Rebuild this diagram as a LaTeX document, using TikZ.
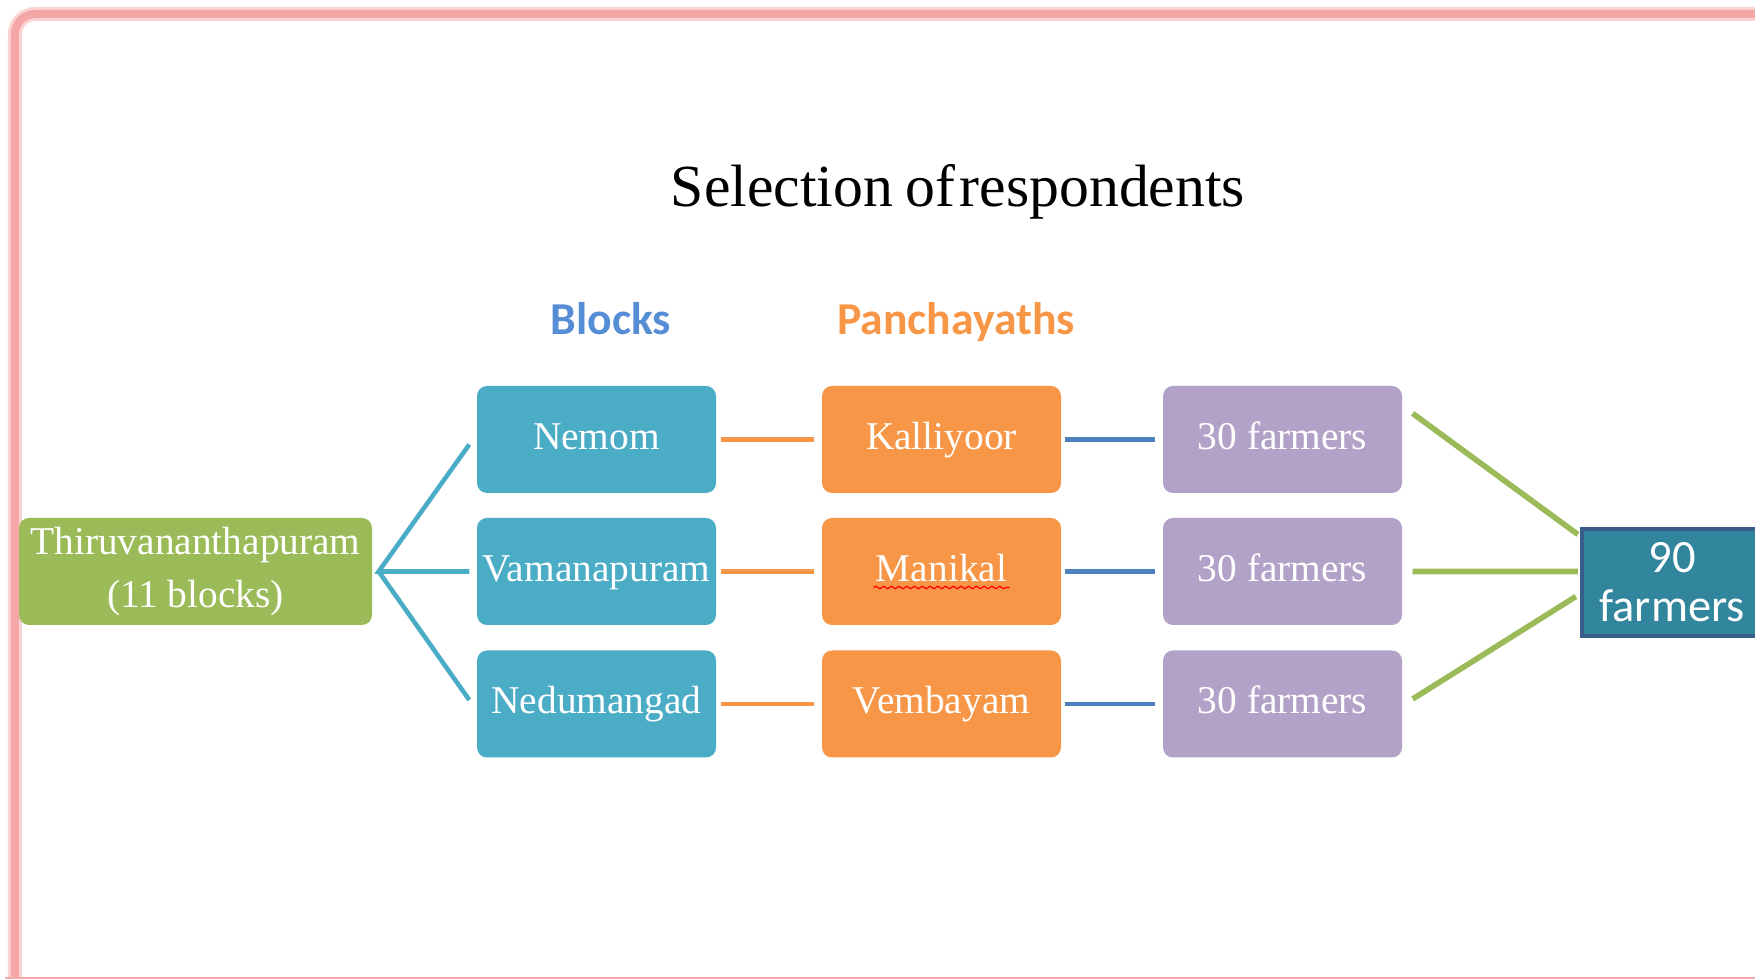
\documentclass[tikz,border=0pt]{standalone}
\usepackage{fontspec}
\setmainfont{Liberation Serif}
\newfontfamily\calibri{Carlito}
\usetikzlibrary{decorations.pathmorphing}
\definecolor{BlockBlue}{HTML}{4BACC6}
\definecolor{PanchOrange}{HTML}{F79646}
\definecolor{FarmPurple}{HTML}{B3A2C7}
\definecolor{DistGreen}{HTML}{9BBB59}
\definecolor{TotalTeal}{HTML}{31859C}
\definecolor{TotalEdge}{HTML}{385D8A}
\definecolor{LinkBlue}{HTML}{4F81BD}
\definecolor{HeadBlue}{HTML}{558ED5}
\definecolor{FramePink}{HTML}{F5A7A7}

\tikzset{
    unitbox/.style={rounded corners=1mm, minimum width=2.39cm, minimum height=1.07cm,
        inner sep=1pt, align=center, text=white, font=\fontsize{11.2}{15}\selectfont},
    unitline/.style={unitbox, text height=1.55ex, text depth=0.35ex},
    header/.style={font=\calibri\bfseries\fontsize{13}{15}\selectfont, text height=1.6ex, text depth=0.45ex},
    link/.style={line width=1.3pt}
}

\begin{document}
\begin{tikzpicture}
    \useasboundingbox (0,0) rectangle (17.55,9.79);

    % ========== Frame ==========
    \draw[FramePink!50, line width=1.4mm] (0.15,0) -- (0.15,9.45) arc (180:90:0.2) -- (17.6,9.65);
    \draw[FramePink, line width=0.8mm] (0.15,0) -- (0.15,9.45) arc (180:90:0.2) -- (17.6,9.65);
    \draw[FramePink, line width=0.25mm] (0.05,0.01) -- (17.6,0.01);

    % Title
    \node[font=\fontsize{17}{20}\selectfont] (title) at (9.58,7.87)
        {Selection\hspace{0.2em}of\hspace{0.08em}respondents};

    % Column headers
    \node[header, text=HeadBlue] (hblocks) at (6.11,6.54) {Blocks};
    \node[header, text=PanchOrange] (hpanch) at (9.56,6.54) {Panchayaths};

    % ========== District ==========
    \node[unitbox, fill=DistGreen, minimum width=3.53cm]
        (dist) at (1.955,4.075) {Thiruvananthapuram\\(11 blocks)};

    % ========== Blocks ==========
    \node[unitline, fill=BlockBlue] (nem) at (5.965,5.395) {Nemom};
    \node[unitline, fill=BlockBlue] (vam) at (5.965,4.075) {Vamanapuram};
    \node[unitline, fill=BlockBlue] (ned) at (5.965,2.75) {Nedumangad};

    % ========== Panchayaths ==========
    \node[unitline, fill=PanchOrange] (kal) at (9.415,5.395) {Kalliyoor};
    \node[unitline, fill=PanchOrange] (man) at (9.415,4.075) {Manikal};
    \node[unitline, fill=PanchOrange] (vem) at (9.415,2.75) {Vembayam};

    % spell-check underline
    \draw[red, line width=0.35pt, decorate, decoration={snake, amplitude=0.35pt, segment length=2.2pt}]
        ([xshift=-0.68cm,yshift=-0.16cm]man.center) -- ([xshift=0.68cm,yshift=-0.16cm]man.center);

    % ========== Farmers ==========
    \node[unitline, fill=FarmPurple] (far1) at (12.825,5.395) {30 farmers};
    \node[unitline, fill=FarmPurple] (far2) at (12.825,4.075) {30 farmers};
    \node[unitline, fill=FarmPurple] (far3) at (12.825,2.75) {30 farmers};

    % Total
    \node[draw=TotalEdge, line width=1.2pt, fill=TotalTeal, text=white, minimum width=1.8cm,
        minimum height=1.07cm, inner sep=1pt, align=center, font=\calibri\fontsize{13.2}{14}\selectfont]
        (total) at (16.72,3.965) {90\\farmers};

    % ========== Connectors ==========
    \coordinate (fan) at ([xshift=0.06cm]dist.east);
    \draw[link, BlockBlue] ([yshift=-0.05cm,xshift=-0.07cm]nem.west) -- (fan) -- ([xshift=-0.07cm]vam.west);
    \draw[link, BlockBlue] (fan) -- ([yshift=0.04cm,xshift=-0.07cm]ned.west);

    \draw[link, PanchOrange] ([xshift=0.04cm]nem.east) -- ([xshift=-0.07cm]kal.west);
    \draw[link, PanchOrange] ([xshift=0.04cm]vam.east) -- ([xshift=-0.07cm]man.west);
    \draw[link, PanchOrange] ([xshift=0.04cm]ned.east) -- ([xshift=-0.07cm]vem.west);

    \draw[link, LinkBlue] ([xshift=0.03cm]kal.east) -- ([xshift=-0.07cm]far1.west);
    \draw[link, LinkBlue] ([xshift=0.03cm]man.east) -- ([xshift=-0.07cm]far2.west);
    \draw[link, LinkBlue] ([xshift=0.03cm]vem.east) -- ([xshift=-0.07cm]far3.west);

    \draw[line width=1.6pt, DistGreen] ([xshift=0.1cm,yshift=0.26cm]far1.east) -- ([xshift=-0.02cm,yshift=0.48cm]total.west);
    \draw[line width=1.6pt, DistGreen] ([xshift=0.1cm]far2.east) -- ([xshift=-0.02cm,yshift=0.11cm]total.west);
    \draw[line width=1.6pt, DistGreen] ([xshift=0.1cm,yshift=0.05cm]far3.east) -- ([xshift=-0.04cm,yshift=-0.14cm]total.west);

\end{tikzpicture}
\end{document}
